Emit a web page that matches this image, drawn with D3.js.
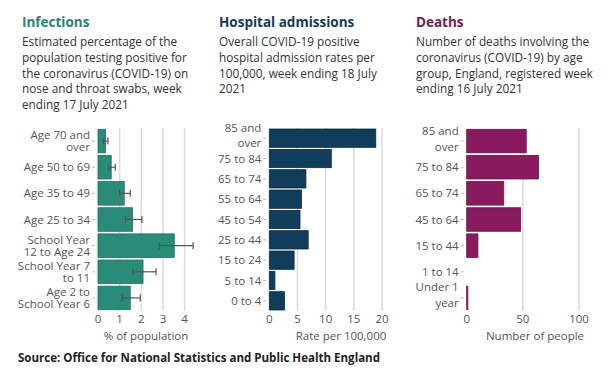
<!DOCTYPE html>
<html>
<head>
<meta charset="utf-8">
<script src="https://cdn.jsdelivr.net/npm/d3@7"></script>
<style>
  body { margin: 0; background: #fff; }
  text { font-family: "Open Sans", "Noto Sans", sans-serif; }
</style>
</head>
<body>
<svg id="chart" width="615" height="374"></svg>
<script>
// infections
const infCategories = ["Age 70 and|over", "Age 50 to 69", "Age 35 to 49", "Age 25 to 34", "School Year|12 to Age 24", "School Year 7|to 11", "Age 2 to|School Year 6"];
const infValues = [0.35, 0.61, 1.21, 1.6, 3.52, 2.08, 1.49];
const infLower = [0.25, 0.5, 1.0, 1.26, 2.83, 1.6, 1.11];
const infUpper = [0.46, 0.8, 1.49, 2.03, 4.39, 2.68, 1.95];
const infTicks = [0, 1, 2, 3, 4];

// hospital admissions
const hospCategories = ["85 and|over", "75 to 84", "65 to 74", "55 to 64", "45 to 54", "25 to 44", "15 to 24", "5 to 14", "0 to 4"];
const hospValues = [18.9, 11.0, 6.5, 5.7, 5.45, 6.9, 4.4, 1.0, 2.7];
const hospTicks = [0, 5, 10, 15, 20];

// deaths
const deathCategories = ["85 and|over", "75 to 84", "65 to 74", "45 to 64", "15 to 44", "1 to 14", "Under 1|year"];
const deathValues = [53, 64, 33, 48, 10, 0, 1];
const deathTicks = [0, 50, 100];

const svg = d3.select("#chart");
const plotTop = 128, plotBottom = 311;

const panels = [
  { title: "Infections", color: "#2a8c78", stroke: "#1f6e5f", titleColor: "#2a8370",
    desc: ["Estimated percentage of the", "population testing positive for", "the coronavirus (COVID-19) on", "nose and throat swabs, week", "ending 17 July 2021"],
    tx: 22, x0: 98, x1: 193.3, domain: [0, 4.4], cats: infCategories, vals: infValues,
    lo: infLower, hi: infUpper, ticks: infTicks, lineH: 12, lineOff: 4,
    axisTitle: "% of population", axisTitleX: 146 },
  { title: "Hospital admissions", color: "#0f3d5a", stroke: "#0a2b40", titleColor: "#163a52",
    desc: ["Overall COVID-19 positive", "hospital admission rates per", "100,000, week ending 18 July", "2021"],
    tx: 219, x0: 269.3, x1: 382, domain: [0, 20], cats: hospCategories, vals: hospValues,
    ticks: hospTicks, lineH: 15.5, lineOff: 1.5,
    axisTitle: "Rate per 100,000", axisTitleX: 341 },
  { title: "Deaths", color: "#8a1a5f", stroke: "#6a1248", titleColor: "#70204f",
    desc: ["Number of deaths involving the", "coronavirus (COVID-19) by age", "group, England, registered week", "ending 16 July 2021"],
    tx: 416, x0: 466.7, x1: 579, domain: [0, 100], cats: deathCategories, vals: deathValues,
    ticks: deathTicks, lineH: 16, lineOff: 1.5,
    axisTitle: "Number of people", axisTitleX: 535 }
];

panels.forEach(p => {
  const g = svg.append("g");

  g.append("text")
    .attr("x", p.tx).attr("y", 27)
    .attr("fill", p.titleColor)
    .style("font-size", "13.5px").style("font-weight", 700)
    .text(p.title);

  g.selectAll("text.desc").data(p.desc).join("text")
    .attr("class", "desc")
    .attr("x", p.tx).attr("y", (d, i) => 46 + i * 15.8)
    .attr("fill", "#333")
    .style("font-size", "11.8px")
    .text(d => d);

  const x = d3.scaleLinear().domain(p.domain).range([p.x0, p.x1]);
  const y = d3.scaleBand().domain(p.cats).range([plotTop, plotBottom]).paddingInner(0.1).paddingOuter(0.05);

  // gridlines
  g.selectAll("line.grid").data(p.ticks.filter(t => t !== 0)).join("line")
    .attr("class", "grid")
    .attr("x1", d => x(d)).attr("x2", d => x(d))
    .attr("y1", plotTop).attr("y2", plotBottom)
    .attr("stroke", "#dcdcdc").attr("stroke-width", 1.5);

  // bars
  g.selectAll("rect.bar").data(p.vals).join("rect")
    .attr("class", "bar")
    .attr("x", x(0))
    .attr("y", (d, i) => y(p.cats[i]))
    .attr("width", d => x(d) - x(0))
    .attr("height", y.bandwidth())
    .attr("fill", p.color)
    .attr("stroke", d => d > 0 ? p.stroke : "none")
    .attr("stroke-width", 0.8);

  // error bars
  if (p.lo) {
    const eb = g.selectAll("g.err").data(p.vals).join("g").attr("class", "err")
      .attr("transform", (d, i) => `translate(0,${y(p.cats[i]) + y.bandwidth() / 2})`);
    eb.append("line")
      .attr("x1", (d, i) => x(p.lo[i])).attr("x2", (d, i) => x(p.hi[i]))
      .attr("stroke", "#555").attr("stroke-width", 1.2);
    eb.append("line")
      .attr("x1", (d, i) => x(p.lo[i])).attr("x2", (d, i) => x(p.lo[i]))
      .attr("y1", -3.5).attr("y2", 3.5)
      .attr("stroke", "#555").attr("stroke-width", 1.2);
    eb.append("line")
      .attr("x1", (d, i) => x(p.hi[i])).attr("x2", (d, i) => x(p.hi[i]))
      .attr("y1", -3.5).attr("y2", 3.5)
      .attr("stroke", "#555").attr("stroke-width", 1.2);
  }

  // category axis
  const cat = g.selectAll("g.cat").data(p.cats).join("g").attr("class", "cat")
    .attr("transform", d => `translate(${x(0)},${y(d) + y.bandwidth() / 2})`);
  cat.append("line")
    .attr("x1", -6).attr("x2", -3)
    .attr("stroke", "#bbb");
  cat.append("text")
    .attr("text-anchor", "end")
    .attr("fill", "#555")
    .style("font-size", "11.5px")
    .each(function(d) {
      const lines = d.split("|");
      const t = d3.select(this);
      lines.forEach((ln, i) => {
        t.append("tspan")
          .attr("x", -8)
          .attr("y", lines.length > 1 ? (i - 0.5) * p.lineH + p.lineOff : 4)
          .text(ln);
      });
    });

  // value axis
  g.selectAll("text.tick").data(p.ticks).join("text")
    .attr("class", "tick")
    .attr("x", d => x(d)).attr("y", 323)
    .attr("text-anchor", "middle")
    .attr("fill", "#555")
    .style("font-size", "11.5px")
    .text(d => d);

  g.append("text")
    .attr("x", p.axisTitleX).attr("y", 340)
    .attr("text-anchor", "middle")
    .attr("fill", "#555")
    .style("font-size", "11.5px")
    .text(p.axisTitle);
});

svg.append("text")
  .attr("x", 18).attr("y", 362)
  .attr("fill", "#222")
  .attr("textLength", 362)
  .attr("lengthAdjust", "spacingAndGlyphs")
  .style("font-size", "13px").style("font-weight", 700)
  .text("Source: Office for National Statistics and Public Health England");
</script>
</body>
</html>
